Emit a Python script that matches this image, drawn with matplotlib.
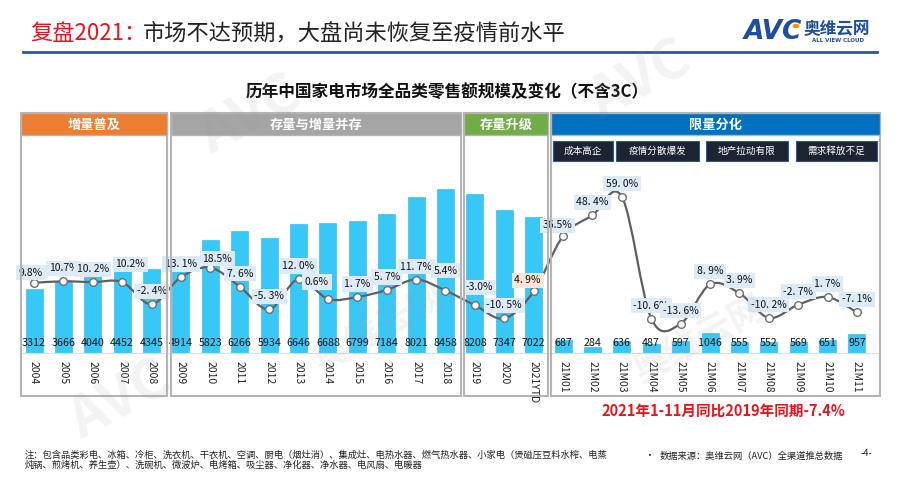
import numpy as np
import matplotlib
matplotlib.use('Agg')
import matplotlib.pyplot as plt
from matplotlib.patches import Rectangle, Circle
from matplotlib.path import Path
from matplotlib.patches import PathPatch

plt.rcParams['font.family'] = ['Noto Sans CJK SC', 'DejaVu Sans']

# %% data
cats = ['2004', '2005', '2006', '2007', '2008', '2009', '2010', '2011', '2012',
        '2013', '2014', '2015', '2016', '2017', '2018', '2019', '2020', '2021YTD',
        '21M01', '21M02', '21M03', '21M04', '21M05', '21M06', '21M07', '21M08',
        '21M09', '21M10', '21M11']
sales = [3312, 3666, 4040, 4452, 4345, 4914, 5823, 6266, 5934, 6646, 6688, 6799,
         7184, 8021, 8458, 8208, 7347, 7022,
         687, 284, 636, 487, 597, 1046, 555, 552, 569, 651, 957]
growth = [9.8, 10.7, 10.2, 10.2, -2.4, 13.1, 18.5, 7.6, -5.3, 12.0, 0.6, 1.7,
          5.7, 11.7, 5.4, -3.0, -10.5, 4.9,
          36.5, 48.4, 59.0, -10.6, -13.6, 8.9, 3.9, -10.2, -2.7, 1.7, -7.1]
growth_labels = ['9.8%', '10.7%', '10. 2%', '10.2%', '-2. 4%', '13. 1%', '18.5%',
                 '7. 6%', '-5. 3%', '12. 0%', '0.6%', '1. 7%', '5. 7%', '11. 7%',
                 '5.4%', '-3.0%', '-10. 5%', '4. 9%',
                 '36.5%', '48. 4%', '59. 0%', '-10. 6%', '-13. 6%', '8. 9%', '3. 9%',
                 '-10. 2%', '-2. 7%', '1. 7%', '-7. 1%']
stages = ['增量普及', '存量与增量并存', '存量升级', '限量分化']
factors = ['成本高企', '疫情分散爆发', '地产拉动有限', '需求释放不足']

W, H = 900, 480
fg = plt.figure(figsize=(9, 4.8), dpi=100)


def fx(x):
    return x / W


def fy(y):
    return 1 - y / H


def ftext(x, y, s, **kw):
    fg.text(fx(x), fy(y), s, **kw)


def frect(x0, y0, x1, y1, **kw):
    r = Rectangle((fx(x0), fy(y1)), fx(x1) - fx(x0), fy(y0) - fy(y1),
                  transform=fg.transFigure, **kw)
    fg.patches.append(r)


# %% header
ftext(30, 33, '复盘2021：', color='#e8141c', fontsize=16, va='center')
ftext(143, 33, '市场不达预期，大盘尚未恢复至疫情前水平', color='#222222', fontsize=16, va='center')
fg.add_artist(plt.Line2D([fx(23), fx(877)], [fy(52), fy(52)], color='#1f5aa6', lw=2,
                         transform=fg.transFigure))
ftext(744, 32, 'AVC', color='#1f4e9c', fontsize=19, fontweight='bold', style='italic',
      va='center', family=['DejaVu Sans'])
fg.patches.append(Circle((fx(796), fy(26)), 0.003, color='#f39800', transform=fg.transFigure))
ftext(804, 29, '奥维云网', color='#1f4e9c', fontsize=12, fontweight='bold', va='center')
ftext(838, 41, 'ALL VIEW CLOUD', color='#1f4e9c', fontsize=4, fontweight='bold',
      va='center', ha='center', family=['DejaVu Sans'])

ftext(447, 92, '历年中国家电市场全品类零售额规模及变化（不含3C）', fontsize=12,
      fontweight='bold', ha='center', va='center', color='#111111')

# %% stage panels
panels = [(21, 167, '#ed7d31'), (171, 461, '#a5a5a5'), (464, 548, '#70ad47'), (551, 880, '#0070c0')]
for (x0, x1, col), name in zip(panels, stages):
    frect(x0, 113, x1, 396, fill=False, edgecolor='#b4b4b4', lw=1.5, zorder=1)
    frect(x0, 113, x1, 135, facecolor=col, edgecolor='#b4b4b4', lw=1.0, zorder=2)
    ftext((x0 + x1) / 2, 124.5, name, color='white', fontsize=9.5, fontweight='bold',
          ha='center', va='center', zorder=3)

boxes = [(553, 613), (616, 699), (706, 788), (796, 877)]
for (x0, x1), name in zip(boxes, factors):
    frect(x0, 141, x1, 161, facecolor='#1c2333', edgecolor='#2f5597', lw=0.8, zorder=2)
    ftext((x0 + x1) / 2, 151, name, color='white', fontsize=6.9, ha='center', va='center', zorder=3)

# %% chart axes
step = (857 - 34) / 28
ax = fg.add_axes([fx(21), fy(353), fx(880) - fx(21), fy(136) - fy(353)])
ax.patch.set_alpha(0)
x = np.arange(len(cats))
ax.bar(x, sales, width=17 / step, color='#38c8f8', edgecolor='#2bb0e0', lw=0.4, zorder=2)
for xi, v in zip(x, sales):
    ax.text(xi, 530, str(v), ha='center', va='center', fontsize=7.7, color='#111111', zorder=5)
ax.set_xlim(-(34 - 21) / step, 28 + (880 - 857) / step)
ax.set_ylim(0, (353 - 136) / 0.0194)
ax.set_xticks(x)
ax.set_xticklabels(cats, rotation=-90, fontsize=7.5, color='#222222')
ax.tick_params(axis='x', length=0, pad=6)
ax.set_yticks([])
for s in ['top', 'left', 'right']:
    ax.spines[s].set_visible(False)
ax.spines['bottom'].set_color('#dddddd')
ax.spines['bottom'].set_linewidth(0.8)

ax2 = ax.twinx()
ax2.set_ylim(-53 / 1.75, (300 - 136) / 1.75)
ax2.set_yticks([])
for s in ax2.spines.values():
    s.set_visible(False)

# smooth line through the points (Catmull-Rom as cubic Bezier)
P = np.column_stack([x, growth]).astype(float)
Pe = np.vstack([P[0], P, P[-1]])
verts = [tuple(P[0])]
codes = [Path.MOVETO]
for i in range(len(P) - 1):
    p0, p1, p2, p3 = Pe[i], Pe[i + 1], Pe[i + 2], Pe[i + 3]
    verts += [tuple(p1 + (p2 - p0) / 6), tuple(p2 - (p3 - p1) / 6), tuple(p2)]
    codes += [Path.CURVE4] * 3
ax2.add_patch(PathPatch(Path(verts, codes), fill=False, edgecolor='#5f5f5f', lw=1.6, zorder=3))
ax2.plot(x, growth, ls='none', marker='o', ms=5.5, mfc='white', mec='#6f6f6f', mew=1.0, zorder=4)

nudge = {3: (8, -18), 6: (7, -9), 10: (-11, -17), 14: (0, -20), 15: (4, -18),
         17: (-6, -11), 18: (-6, -11), 0: (-3, -10)}
for i, (v, lab) in enumerate(zip(growth, growth_labels)):
    dx, dy = nudge.get(i, (0, -13))
    fc = '#fbe5d6' if cats[i] == '2021YTD' else '#ddebf7'
    ax2.annotate(lab, (i, v), xytext=(dx * 0.72, -dy * 0.72), textcoords='offset points',
                 ha='center', va='center', fontsize=7.5, color='#111111', zorder=6,
                 bbox=dict(boxstyle='square,pad=0.25', fc=fc, ec='none'))

# %% watermarks
for (wx, wy, s, fs) in [(250, 115, 'AVC', 40), (380, 330, '奥维云网', 26), (640, 80, 'AVC', 40),
                        (700, 340, '奥维云网', 26), (120, 400, 'AVC', 40)]:
    ftext(wx, wy, s, fontsize=fs, color='#9a9a9a', alpha=0.12, rotation=28, fontweight='bold',
          ha='center', va='center', zorder=10)

# %% notes
ftext(723, 411, '2021年1-11月同比2019年同期-7.4%', color='#e8141c', fontsize=10.5,
      fontweight='bold', ha='center', va='center')
ftext(25, 455, '注：包含品类彩电、冰箱、冷柜、洗衣机、干衣机、空调、厨电（烟灶消）、集成灶、电热水器、燃气热水器、小家电（煲磁压豆料水榨、电蒸',
      fontsize=6.7, va='center', color='#222222')
ftext(25, 465, '炖锅、煎烤机、养生壶）、洗碗机、微波炉、电烤箱、吸尘器、净化器、净水器、电风扇、电暖器',
      fontsize=6.7, va='center', color='#222222')
ftext(644, 456, '•', fontsize=7, va='center', color='#222222')
ftext(660, 456, '数据来源：奥维云网（AVC）全渠道推总数据', fontsize=6.7, va='center', color='#222222')
ftext(861, 453, '-4-', fontsize=6.7, va='center', color='#222222')

fg.savefig('out.png', dpi=100)
